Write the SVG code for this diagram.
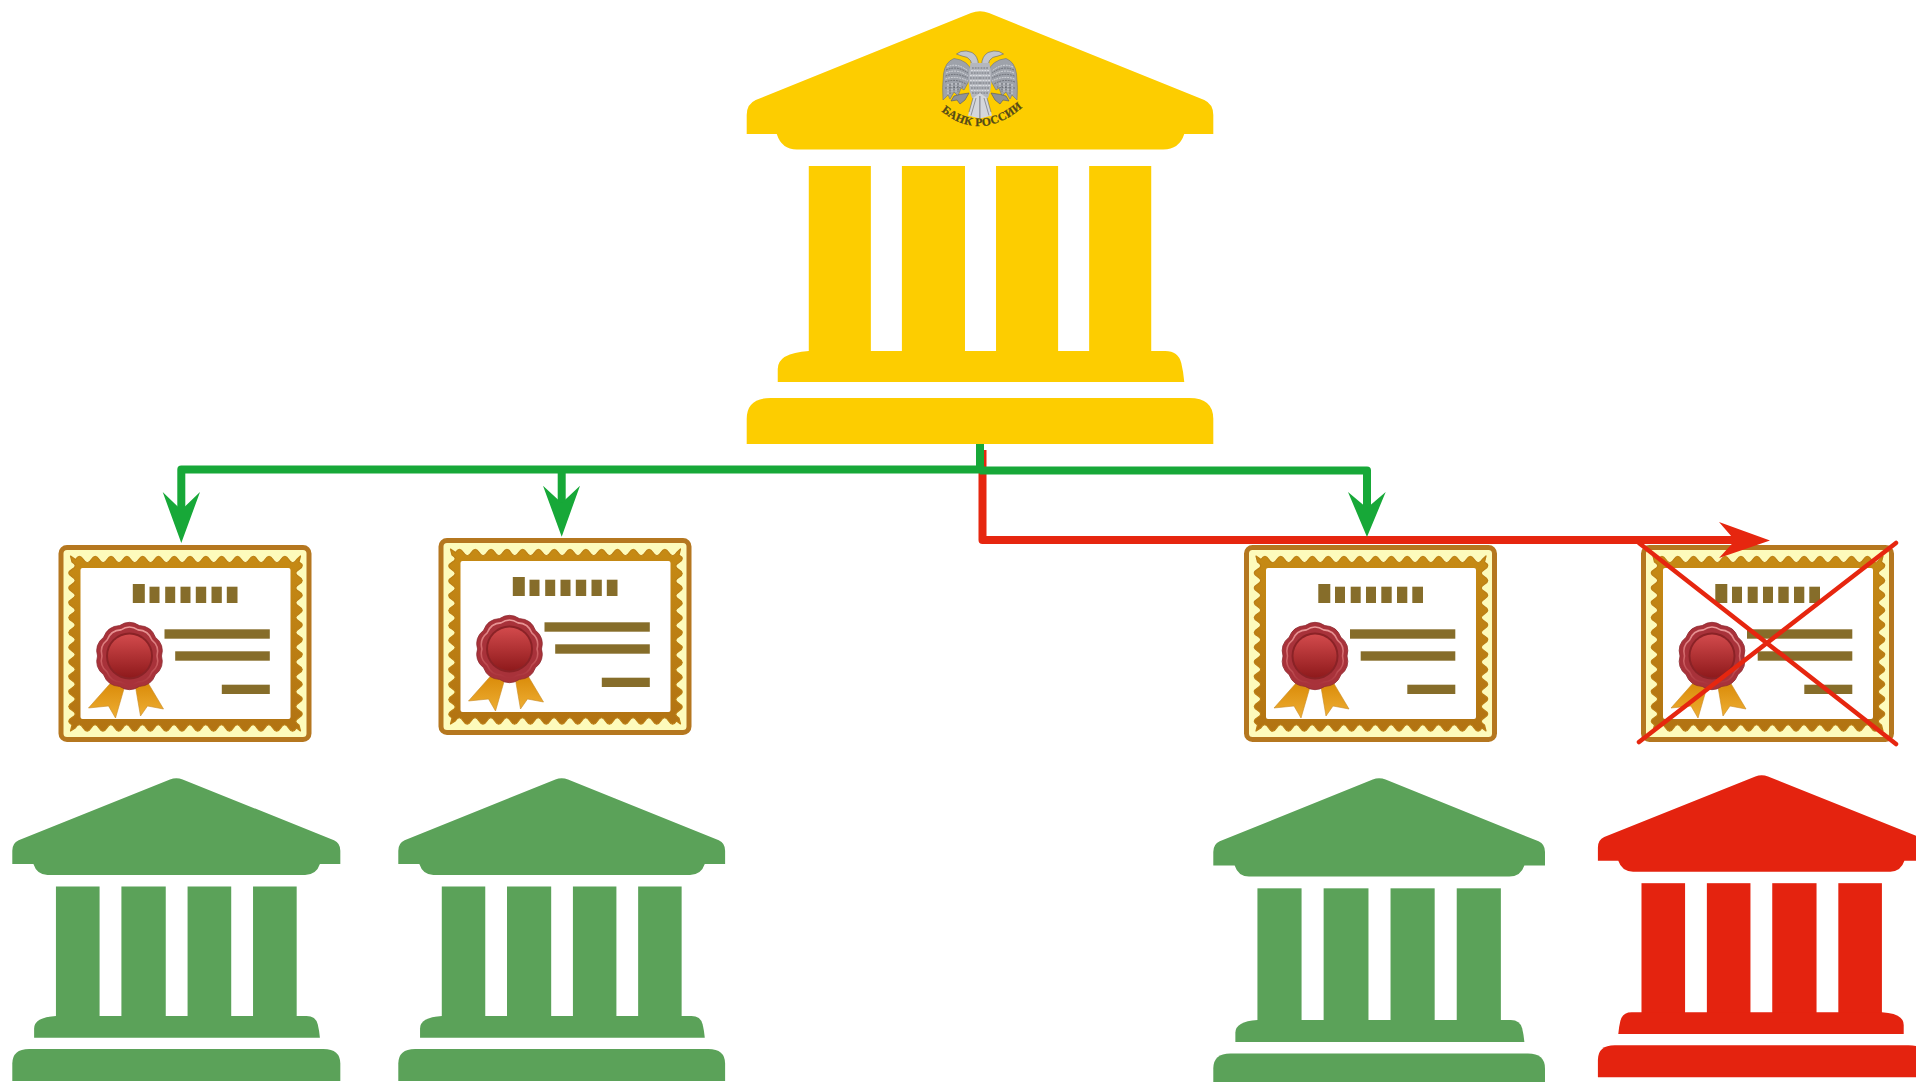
<svg xmlns="http://www.w3.org/2000/svg" xmlns:xlink="http://www.w3.org/1999/xlink" width="1916" height="1082" viewBox="0 0 1916 1082">
<style>
.yellow{fill:#fdcd00}.green{fill:#5ba259}.red{fill:#e4230f}
.gline{fill:none;stroke:#17a838;stroke-width:8;stroke-linejoin:round}
.rline{fill:none;stroke:#e6260f;stroke-width:8;stroke-linejoin:round}
.ghead{fill:#17a838}.rhead{fill:#e6260f}
.cross{stroke:#e6260f;stroke-width:4.5;stroke-linecap:round;fill:none}
.bar{fill:#866d2a}
.emblem{font-family:"Liberation Serif","Noto Sans",serif;font-weight:700;font-size:11.5px;fill:#544a18;stroke:#544a18;stroke-width:.25px;letter-spacing:.35px}
.ln{fill:none;stroke:#5f626a;stroke-width:.8;stroke-dasharray:1.8 1}
.lt{fill:none;stroke:#e4e6ea;stroke-width:.8;stroke-dasharray:1.8 1}
</style>
<defs>
<linearGradient id="frameG" x1="0" y1="0" x2="0" y2="1"><stop offset="0" stop-color="#c68a14"/><stop offset="1" stop-color="#b27312"/></linearGradient>
<linearGradient id="waxG" x1="0" y1="0" x2="0" y2="1"><stop offset="0" stop-color="#d24a4c"/><stop offset="1" stop-color="#8f1a1c"/></linearGradient>
<linearGradient id="ribG" x1="0" y1="0" x2="0" y2="1"><stop offset="0" stop-color="#d98a08"/><stop offset="1" stop-color="#eeae33"/></linearGradient>
<linearGradient id="ringG" x1="0" y1="0" x2="0" y2="1"><stop offset="0" stop-color="#eb9a9a"/><stop offset=".55" stop-color="#cf6366"/><stop offset="1" stop-color="#a8323a"/></linearGradient>
<path id="lobes" d="M-9.9 -30.4Q0 -37 9.9 -30.4Q21.7 -29.9 25.9 -18.8Q35.2 -11.4 32 0Q35.2 11.4 25.9 18.8Q21.7 29.9 9.9 30.4Q0 37 -9.9 30.4Q-21.7 29.9 -25.9 18.8Q-35.2 11.4 -32 0Q-35.2 -11.4 -25.9 -18.8Q-21.7 -29.9 -9.9 -30.4Z"/>
<g id="bank">
<path d="M0 123V104Q0 93 9 89L224 2Q233 -1.5 242 2L457 89Q466 93 466 104V123H437Q432 138.5 416 138.5H50Q35 138.5 30 123Z"/>
<rect x="62" y="155" width="62" height="190"/><rect x="155" y="155" width="63" height="190"/><rect x="249" y="155" width="62" height="190"/><rect x="342" y="155" width="62" height="190"/>
<path d="M31 371V358Q31 342 62 340H418Q431 340 434 352Q436 360 437 371Z"/>
<path d="M0 433V408Q0 387 24 387H442Q466 387 466 408V433Z"/>
</g>
<g id="cert">
<rect x="2.5" y="2.5" width="248" height="192" rx="6" fill="#fdfbbc" stroke="#b5771f" stroke-width="5"/>
<path fill="url(#frameG)" stroke="#bb7e14" stroke-width="1.2" stroke-linejoin="round" d="M12 11L17 14.5q3.95 -6.5 7.9 0t7.9 0t7.9 0t7.9 0t7.9 0t7.9 0t7.9 0t7.9 0t7.9 0t7.9 0t7.9 0t7.9 0t7.9 0t7.9 0t7.9 0t7.9 0t7.9 0t7.9 0t7.9 0t7.9 0t7.9 0t7.9 0t7.9 0t7.9 0t7.9 0t7.9 0t7.9 0t7.9 0L242 11L240.5 17q6.5 3.7 0 7.41t0 7.41t0 7.41t0 7.41t0 7.41t0 7.41t0 7.41t0 7.41t0 7.41t0 7.41t0 7.41t0 7.41t0 7.41t0 7.41t0 7.41t0 7.41t0 7.41t0 7.41t0 7.41t0 7.41t0 7.41t0 7.41L242 186L238 183q-3.95 6.5 -7.9 0t-7.9 0t-7.9 0t-7.9 0t-7.9 0t-7.9 0t-7.9 0t-7.9 0t-7.9 0t-7.9 0t-7.9 0t-7.9 0t-7.9 0t-7.9 0t-7.9 0t-7.9 0t-7.9 0t-7.9 0t-7.9 0t-7.9 0t-7.9 0t-7.9 0t-7.9 0t-7.9 0t-7.9 0t-7.9 0t-7.9 0t-7.9 0L12 186L13.5 180q-6.5 -3.7 0 -7.41t0 -7.41t0 -7.41t0 -7.41t0 -7.41t0 -7.41t0 -7.41t0 -7.41t0 -7.41t0 -7.41t0 -7.41t0 -7.41t0 -7.41t0 -7.41t0 -7.41t0 -7.41t0 -7.41t0 -7.41t0 -7.41t0 -7.41t0 -7.41t0 -7.41Z"/>
<rect x="22" y="23" width="210" height="151" rx="2" fill="#fff"/>
<rect class="bar" x="74.3" y="39" width="12" height="19"/><rect class="bar" x="91" y="41.7" width="10" height="16.3"/><rect class="bar" x="106.7" y="41.7" width="10" height="16.3"/><rect class="bar" x="122" y="41.7" width="10" height="16.3"/><rect class="bar" x="137.3" y="41.7" width="10.4" height="16.3"/><rect class="bar" x="153" y="41.7" width="10.3" height="16.3"/><rect class="bar" x="168.3" y="41.7" width="10.7" height="16.3"/>
<rect class="bar" x="106" y="84.3" width="105.3" height="9.4"/><rect class="bar" x="116.7" y="106.3" width="94.6" height="9.4"/><rect class="bar" x="163.3" y="139.7" width="48" height="9.3"/>
<path d="M53 137L66 142L57 173L50 161L30 163Z" fill="url(#ribG)" stroke="#c98a22" stroke-width=".6"/>
<path d="M77 142L89 137L105 164L89 161L82 171Z" fill="url(#ribG)" stroke="#c98a22" stroke-width=".6"/>
<use xlink:href="#lobes" href="#lobes" transform="translate(71,111)" fill="#a8323a" stroke="#8e2a30" stroke-width=".8"/>
<use xlink:href="#lobes" href="#lobes" transform="translate(71,111) scale(.86)" fill="none" stroke="url(#ringG)" stroke-width="1.8"/>
<circle cx="71" cy="111" r="23.5" fill="#8a2226"/>
<circle cx="71" cy="111" r="21.5" fill="url(#waxG)"/>
</g>
<g id="halfEagle">
<path d="M972 72Q968 60 954 58.5Q945 62 943.5 74Q942 88 943 100L948 95L950 99L954 92L958 96L961 88L964 90L969 81Z" fill="#9ea2aa" stroke="#6f727a" stroke-width=".6"/>
<path class="lt" d="M947 67Q957 62 968 71M946 73Q957 68 968 76M945.5 79Q956 75 968 81"/>
<path class="ln" d="M946 70Q957 65 968 73M945.5 76Q956 72 968 78M945 82Q956 78 966 84M945 88L963 87"/>
<path class="lt" d="M948 84V94M952 83V92M956 83V92M960 83V87"/>
<path class="ln" d="M950 84V94M954 83V91M958 83V92"/>
<path d="M978.5 65Q978 56 972 52.5Q966 50 961 51.5L956.5 54L962 56Q968 56.5 970.5 60.5L973 68Z" fill="#c3c6cc" stroke="#62656d" stroke-width=".6"/>
<path d="M970.5 63H980V98H972Q966 85 970.5 63Z" fill="#b4b7be"/>
<path class="ln" d="M972 68H980M971 73H980M970 78H980M970 83H980M971 88H980M972 93H980"/>
<path class="lt" d="M971 70.5H980M970 75.5H980M970 80.5H980M970 85.5H980M971 90.5H980"/>
<path d="M980 93L973 98L968 115.5L980 118.5Z" fill="#d4d6db"/>
<path d="M976 98L971 115.5M980 96V118.5M973 98L969 112" stroke="#71747c" stroke-width=".7" fill="none"/>
<path d="M969 93Q960 94 954 96L951 101L957 100L960 104L965 100Z" fill="#8f929a" stroke="#54575f" stroke-width=".6"/>
</g>
<path id="arc" d="M941 111Q981 143 1023 107"/>
</defs>
<rect width="1916" height="1082" fill="#fff"/>

<g id="central-bank">
<use xlink:href="#bank" href="#bank" class="yellow" transform="translate(746.7,11) scale(1.0013,1)"/>
<use xlink:href="#halfEagle" href="#halfEagle"/>
<use xlink:href="#halfEagle" href="#halfEagle" transform="translate(1960,0) scale(-1,1)"/>
<text class="emblem" text-anchor="middle"><textPath xlink:href="#arc" href="#arc" startOffset="50%">БАНК РОССИИ</textPath></text>
</g>

<g id="cert-1"><use xlink:href="#cert" href="#cert" transform="translate(58.5,545)"/></g>
<g id="cert-2"><use xlink:href="#cert" href="#cert" transform="translate(438.5,538)"/></g>
<g id="cert-3"><use xlink:href="#cert" href="#cert" transform="translate(1244,545)"/></g>
<g id="cert-4"><use xlink:href="#cert" href="#cert" transform="translate(1641,545)"/></g>

<g id="bank-1"><use xlink:href="#bank" href="#bank" class="green" transform="translate(12.3,778) scale(.7039,.70)"/></g>
<g id="bank-2"><use xlink:href="#bank" href="#bank" class="green" transform="translate(398.3,778) scale(.7013,.70)"/></g>
<g id="bank-3"><use xlink:href="#bank" href="#bank" class="green" transform="translate(1213.3,778) scale(.7118)"/></g>
<g id="bank-4"><use xlink:href="#bank" href="#bank" class="red" transform="translate(1925.5,775) scale(-.703,.698)"/></g>

<g id="connectors">
<path class="rline" d="M982.5 450V540H1735"/>
<path class="rhead" d="M1770 540.5L1719 522L1735 540.5L1719 558Z"/>
<path class="gline" d="M980 444V469.5H181.3V512"/>
<path class="ghead" d="M181.3 543L162.7 492L181.3 510L200 492Z"/>
<path class="gline" d="M561.7 469.5V505"/>
<path class="ghead" d="M561.7 536.7L543 485.7L561.7 503L580 485.7Z"/>
<path class="gline" d="M980 470.5H1367V510"/>
<path class="ghead" d="M1367 537L1348 492L1367 508L1385.7 492Z"/>
<path class="cross" d="M1639 543L1896 744M1896 543L1639 742"/>
</g>
</svg>
